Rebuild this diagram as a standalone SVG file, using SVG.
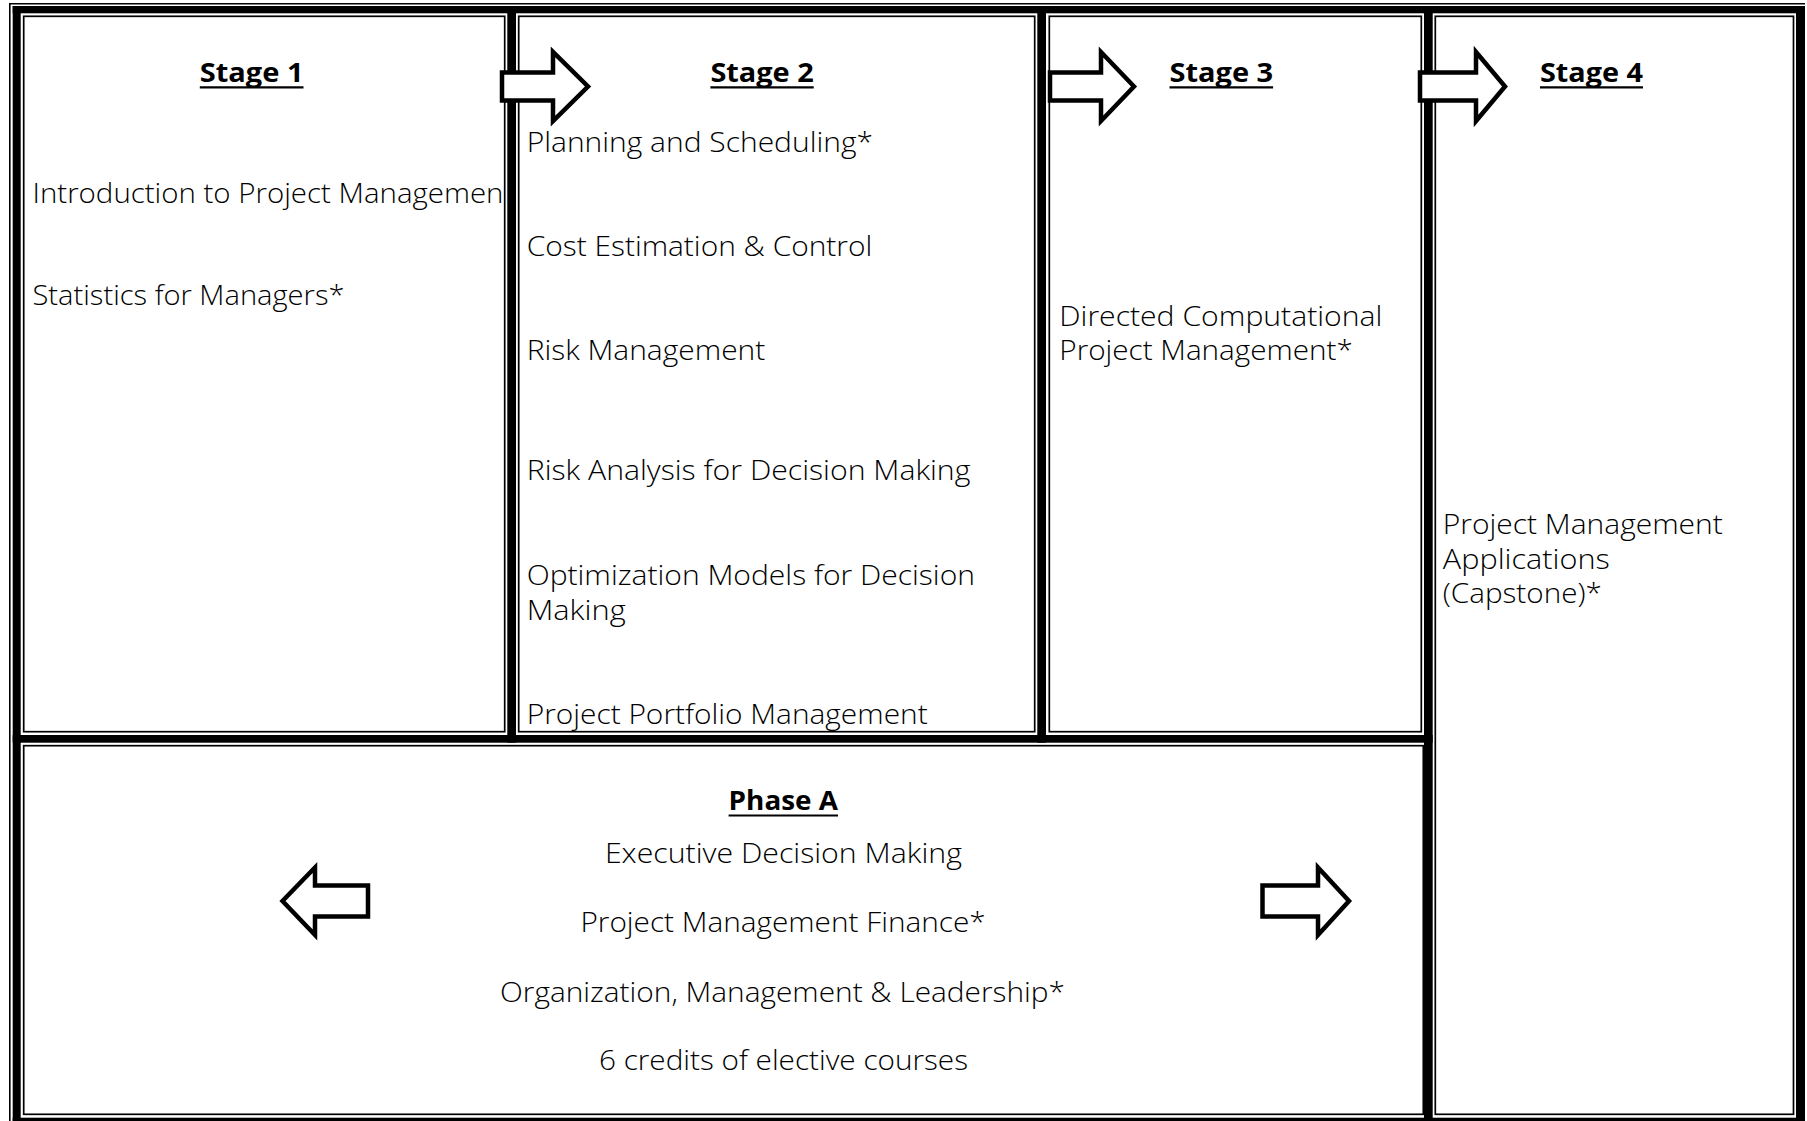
<svg xmlns="http://www.w3.org/2000/svg" width="1807" height="1121" viewBox="0 0 1807 1121">
<style>
.t{font-family:"Open Sans","Liberation Sans",sans-serif;font-size:28px;font-weight:300;fill:#000}
.h{font-family:"Open Sans","Liberation Sans",sans-serif;font-size:26px;font-weight:700;fill:#000}
.cell{fill:none;stroke:#000;stroke-width:1.7}
.band{fill:#000}
.thin{stroke:#000;stroke-width:1.6;fill:none}
.ul{stroke:#000;stroke-width:2.2}
.arrow{fill:#fff;stroke:#000;stroke-width:4.5;stroke-linejoin:miter}
</style>
<rect width="1807" height="1121" fill="#fff"/>
<g id="frame">
<line class="thin" x1="9" y1="3.7" x2="1805" y2="3.7"/>
<line class="thin" x1="9.8" y1="3" x2="9.8" y2="1121"/>
<rect class="band" x="12.7" y="6" width="1792.3" height="7.3"/>
<rect class="band" x="12.7" y="6" width="8" height="1115"/>
<rect class="band" x="1796" y="6" width="9" height="1115"/>
<rect class="band" x="12.7" y="1117.7" width="1792.3" height="4"/>
<rect class="band" x="507.3" y="6" width="8.7" height="736.7"/>
<rect class="band" x="1037.3" y="6" width="8.7" height="736.7"/>
<rect class="band" x="1424" y="6" width="8.7" height="1115"/>
<rect class="band" x="12.7" y="735" width="1420" height="7.7"/>
</g>
<g id="stage1">
<rect class="cell" x="23.7" y="16.3" width="481" height="715.4"/>
<text class="h" x="199.8" y="81.7" textLength="103.7" lengthAdjust="spacingAndGlyphs">Stage 1</text>
<line class="ul" x1="199.8" y1="87.3" x2="303.5" y2="87.3"/>
<text class="t" x="32.5" y="203.3" textLength="471" lengthAdjust="spacingAndGlyphs">Introduction to Project Managemen</text>
<text class="t" x="32.5" y="305" textLength="312" lengthAdjust="spacingAndGlyphs">Statistics for Managers*</text>
</g>
<g id="stage2">
<rect class="cell" x="518.7" y="16.3" width="516" height="715.4"/>
<text class="h" x="710.4" y="81.7" textLength="103.3" lengthAdjust="spacingAndGlyphs">Stage 2</text>
<line class="ul" x1="710.4" y1="87.3" x2="813.7" y2="87.3"/>
<text class="t" x="526.7" y="151.7" textLength="346.3" lengthAdjust="spacingAndGlyphs">Planning and Scheduling*</text>
<text class="t" x="526.7" y="256" textLength="345.6" lengthAdjust="spacingAndGlyphs">Cost Estimation &amp; Control</text>
<text class="t" x="526.7" y="360.3" textLength="238.6" lengthAdjust="spacingAndGlyphs">Risk Management</text>
<text class="t" x="526.7" y="480.1" textLength="443.7" lengthAdjust="spacingAndGlyphs">Risk Analysis for Decision Making</text>
<text class="t" x="526.7" y="585" textLength="448.3" lengthAdjust="spacingAndGlyphs">Optimization Models for Decision</text>
<text class="t" x="526.7" y="619.5" textLength="99" lengthAdjust="spacingAndGlyphs">Making</text>
<text class="t" x="526.7" y="724" textLength="401" lengthAdjust="spacingAndGlyphs">Project Portfolio Management</text>
</g>
<g id="stage3">
<rect class="cell" x="1049.3" y="16.3" width="372" height="715.4"/>
<text class="h" x="1169.5" y="81.7" textLength="103.6" lengthAdjust="spacingAndGlyphs">Stage 3</text>
<line class="ul" x1="1169.5" y1="87.3" x2="1273.1" y2="87.3"/>
<text class="t" x="1059.3" y="325.5" textLength="323" lengthAdjust="spacingAndGlyphs">Directed Computational</text>
<text class="t" x="1059.3" y="360.2" textLength="293.5" lengthAdjust="spacingAndGlyphs">Project Management*</text>
</g>
<g id="stage4">
<rect class="cell" x="1435.3" y="16.3" width="358.2" height="1098"/>
<text class="h" x="1540" y="81.7" textLength="103" lengthAdjust="spacingAndGlyphs">Stage 4</text>
<line class="ul" x1="1540" y1="87.3" x2="1643" y2="87.3"/>
<text class="t" x="1442.8" y="534.3" textLength="280" lengthAdjust="spacingAndGlyphs">Project Management</text>
<text class="t" x="1442.8" y="568.8" textLength="167" lengthAdjust="spacingAndGlyphs">Applications</text>
<text class="t" x="1442.8" y="603.4" textLength="159" lengthAdjust="spacingAndGlyphs">(Capstone)*</text>
</g>
<g id="phaseA">
<rect class="cell" x="23.7" y="745.7" width="1399.6" height="368.6"/>
<text class="h" x="728.6" y="810" textLength="109.4" lengthAdjust="spacingAndGlyphs">Phase A</text>
<line class="ul" x1="728.6" y1="815.5" x2="838" y2="815.5"/>
<text class="t" x="604.9" y="863.3" textLength="357" lengthAdjust="spacingAndGlyphs">Executive Decision Making</text>
<text class="t" x="580.4" y="931.7" textLength="405.3" lengthAdjust="spacingAndGlyphs">Project Management Finance*</text>
<text class="t" x="500" y="1001.7" textLength="565" lengthAdjust="spacingAndGlyphs">Organization, Management &amp; Leadership*</text>
<text class="t" x="599" y="1070" textLength="369" lengthAdjust="spacingAndGlyphs">6 credits of elective courses</text>
</g>
<g id="connectors">
<path class="arrow" d="M502,72.5 H553 V52 L588,86.5 L553,121 V100.5 H502 Z"/>
<path class="arrow" d="M1050,72.5 H1101 V52 L1134,86.5 L1101,121 V100.5 H1050 Z"/>
<path class="arrow" d="M1420,72.5 H1476 V52 L1505,86.5 L1476,121 V100.5 H1420 Z"/>
<path class="arrow" d="M368,885.5 H315 V867.5 L282.5,901 L315,935 V916.5 H368 Z"/>
<path class="arrow" d="M1262.5,885.5 H1318 V867.5 L1349,901 L1318,935 V916.5 H1262.5 Z"/>
</g>
</svg>
